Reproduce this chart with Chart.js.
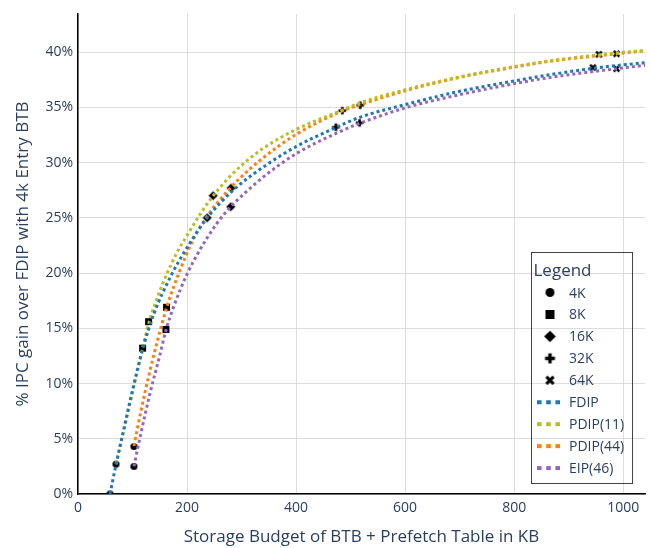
<!DOCTYPE html>
<html>
<head>
<meta charset="utf-8">
<script src="https://cdn.jsdelivr.net/npm/chart.js@4/dist/chart.umd.min.js"></script>
<style>
  html, body { margin: 0; padding: 0; background: #fff; }
  #wrap { width: 651px; height: 548px; }
</style>
</head>
<body>
<div id="wrap"><canvas id="chart" width="651" height="548"></canvas></div>
<script>
// categories
const btbLabels = ["4K", "8K", "16K", "32K", "64K"];
const schemeLabels = ["FDIP", "PDIP(11)", "PDIP(44)", "EIP(46)"];
const schemeColors = ["#1f77b4", "#bcbd22", "#ff7f0e", "#9467bd"];

// measured points (one per BTB size): storage in KB, IPC gain in %
const fdipKB = [58.6, 118.5, 236.9, 473.1, 944.5];
const fdipGain = [0.0, 13.2, 25.0, 33.2, 38.6];
const pdip11KB = [69.6, 129.5, 247.8, 484.8, 955.4];
const pdip11Gain = [2.7, 15.6, 27.0, 34.7, 39.8];
const pdip44KB = [102.6, 162.4, 280.8, 517.7, 987.8];
const pdip44Gain = [4.3, 16.9, 27.7, 35.2, 39.85];
const eipKB = [102.6, 161.2, 280.2, 516.5, 987.8];
const eipGain = [2.5, 14.9, 26.0, 33.6, 38.5];

// dotted trend lines
const fdipFitKB = [58.6, 70, 85, 100, 118.5, 140, 170, 200, 237, 287, 340, 400, 474, 517, 600, 700, 790, 865, 955, 1040];
const fdipFitGain = [0, 2.7, 6.1, 9.4, 13.1, 16.4, 19.7, 22.3, 25.0, 27.6, 29.6, 31.45, 33.2, 34.1, 35.25, 36.45, 37.3, 37.95, 38.6, 39.05];
const pdip11FitKB = [69.6, 89, 108, 129.5, 145, 160, 180, 200, 225, 248, 278, 300, 340, 400, 485, 517, 600, 700, 790, 865, 955, 1040];
const pdip11FitGain = [2.7, 6.8, 10.9, 15.4, 17.7, 19.6, 21.7, 23.4, 25.4, 27.0, 28.7, 29.75, 31.3, 33.0, 34.75, 35.4, 36.6, 37.75, 38.6, 39.2, 39.75, 40.15];
const pdip44FitKB = [102.6, 115, 130, 147, 162.4, 185, 211, 242, 272, 294, 340, 400, 486, 518, 600, 700, 790, 865, 988, 1040];
const pdip44FitGain = [4.35, 7.4, 10.75, 14.1, 16.85, 20.0, 23.0, 25.5, 27.3, 28.45, 30.45, 32.55, 34.7, 35.25, 36.5, 37.72, 38.55, 39.17, 39.85, 40.12];
const eipFitKB = [102.6, 115, 132, 150, 161.2, 175, 200, 223, 254, 280, 291, 340, 400, 480, 516.5, 600, 700, 790, 865, 988, 1040];
const eipFitGain = [2.5, 5.4, 9.1, 12.55, 14.8, 16.9, 19.9, 22.05, 24.45, 26.0, 26.55, 28.7, 30.8, 32.8, 33.55, 34.95, 36.15, 37.05, 37.7, 38.5, 38.8];

// tick labels
const xTicks = [0, 200, 400, 600, 800, 1000];
const yTicks = [0, 5, 10, 15, 20, 25, 30, 35, 40];

const textColor = "#2a3f5f";
const fontFamily = "'Open Sans', 'Noto Sans', sans-serif";

const schemeKB = [fdipKB, pdip11KB, pdip44KB, eipKB];
const schemeGain = [fdipGain, pdip11Gain, pdip44Gain, eipGain];
const fitKB = [fdipFitKB, pdip11FitKB, pdip44FitKB, eipFitKB];
const fitGain = [fdipFitGain, pdip11FitGain, pdip44FitGain, eipFitGain];
const markerShapes = ["circle", "square", "diamond", "cross", "x"];

// plotly-like filled black symbols
function makeMarker(shape, size) {
  const c = document.createElement("canvas");
  const full = size + 4;
  c.width = c.height = full;
  const g = c.getContext("2d");
  const m = full / 2, r = size / 2;
  g.fillStyle = "#000";
  g.strokeStyle = "#000";
  g.beginPath();
  if (shape === "circle") {
    g.arc(m, m, r, 0, Math.PI * 2);
  } else if (shape === "square") {
    g.rect(m - r, m - r, size, size);
  } else if (shape === "diamond") {
    const d = r * 1.3;
    g.moveTo(m, m - d); g.lineTo(m + d, m); g.lineTo(m, m + d); g.lineTo(m - d, m); g.closePath();
  } else if (shape === "cross") {
    const w = size * 0.38, h = r * 1.1;
    g.rect(m - h, m - w / 2, 2 * h, w);
    g.rect(m - w / 2, m - h, w, 2 * h);
  } else {
    g.lineWidth = size * 0.34;
    const h = r * 0.8;
    g.moveTo(m - h, m - h); g.lineTo(m + h, m + h);
    g.moveTo(m + h, m - h); g.lineTo(m - h, m + h);
    g.stroke();
    return c;
  }
  g.fill();
  return c;
}

const markerSets = btbLabels.map((lbl, i) => ({
  label: lbl,
  data: schemeKB.map((kb, s) => ({ x: kb[i], y: schemeGain[s][i] })),
  pointStyle: makeMarker(markerShapes[i], 7),
  legendSymbol: makeMarker(markerShapes[i], 9),
  pointRadius: 4,
  showLine: false,
  order: 1
}));

const lineSets = schemeLabels.map((lbl, s) => ({
  label: lbl,
  data: fitKB[s].map((x, k) => ({ x: x, y: fitGain[s][k] })),
  showLine: true,
  borderColor: schemeColors[s],
  backgroundColor: schemeColors[s],
  borderWidth: 3,
  borderDash: [3, 3],
  pointRadius: 0,
  cubicInterpolationMode: "monotone",
  fill: false,
  order: 0
}));

// legend box inside the plot, transparent like the original
const boxLegend = {
  id: "boxLegend",
  afterDatasetsDraw(chart) {
    const ctx = chart.ctx;
    const L = 531.5, T = 252.5, R = 632.5, B = 483.5;
    ctx.save();
    ctx.strokeStyle = "#444";
    ctx.lineWidth = 1;
    ctx.strokeRect(L, T, R - L, B - T);
    ctx.fillStyle = textColor;
    ctx.textBaseline = "alphabetic";
    ctx.font = "17px " + fontFamily;
    ctx.fillText("Legend", 533.5, 275.5);
    ctx.font = "14px " + fontFamily;
    chart.data.datasets.forEach((ds, i) => {
      const y = 292.5 + i * 21.95;
      if (ds.legendSymbol) {
        const sym = ds.legendSymbol;
        ctx.drawImage(sym, 550 - sym.width / 2, y - sym.height / 2);
      } else {
        ctx.fillStyle = ds.borderColor;
        for (let k = 0; k < 3; k++) ctx.fillRect(537 + k * 9.2, y - 2, 4.6, 4);
      }
      ctx.fillStyle = textColor;
      ctx.fillText(ds.label, 569, y + 5);
    });
    ctx.restore();
  }
};

new Chart(document.getElementById("chart"), {
  type: "scatter",
  data: { datasets: [...markerSets, ...lineSets] },
  options: {
    responsive: false,
    devicePixelRatio: 1,
    animation: false,
    events: [],
    layout: { padding: { top: 14, right: 6, left: 0, bottom: 0 } },
    plugins: { legend: { display: false }, tooltip: { enabled: false } },
    scales: {
      x: {
        type: "linear", min: 0, max: 1040,
        afterBuildTicks: s => { s.ticks = xTicks.map(v => ({ value: v })); },
        afterFit: s => { s.height = 54; },
        grid: { color: "#dcdcdc", lineWidth: 1, drawTicks: false },
        border: { color: "#000", width: 1.5 },
        ticks: { padding: 6, color: textColor, font: { family: fontFamily, size: 14 }, callback: v => String(v) },
        title: {
          display: true, text: "Storage Budget of BTB + Prefetch Table in KB",
          color: textColor, font: { family: fontFamily, size: 17 }, padding: { top: 0, bottom: 1 }
        }
      },
      y: {
        type: "linear", min: 0, max: 43.45,
        afterBuildTicks: s => { s.ticks = yTicks.map(v => ({ value: v })); },
        afterFit: s => { s.width = 78; },
        grid: { color: "#dcdcdc", lineWidth: 1, drawTicks: false },
        border: { color: "#000", width: 1.5 },
        ticks: { padding: 5, color: textColor, font: { family: fontFamily, size: 14 }, callback: v => v + "%" },
        title: {
          display: true, text: "% IPC gain over FDIP with 4k Entry BTB",
          color: textColor, font: { family: fontFamily, size: 17 }, padding: { top: 13, bottom: 0 }
        }
      }
    }
  },
  plugins: [boxLegend]
});
</script>
</body>
</html>
